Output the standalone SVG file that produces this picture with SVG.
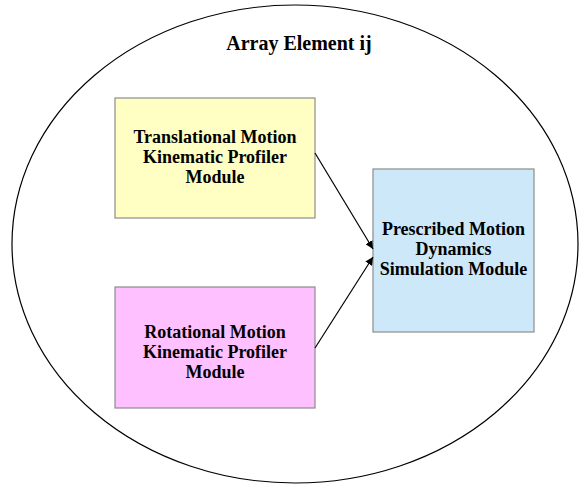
<svg xmlns="http://www.w3.org/2000/svg" width="579" height="487" viewBox="0 0 579 487">
<style>
.box{stroke:#8c8c8c;stroke-width:1.2}
.t{font-family:"Liberation Serif","Times New Roman",serif;font-weight:bold;font-size:18px;fill:#000;text-anchor:middle}
.c{stroke:#000;stroke-width:1.2;fill:none;marker-end:url(#ah)}
</style>
<defs>
<marker id="ah" viewBox="0 0 10 10" refX="10" refY="5" markerWidth="8" markerHeight="8" markerUnits="userSpaceOnUse" orient="auto">
<path d="M0,0 L10,5 L0,10 z" fill="#000"/>
</marker>
</defs>
<rect width="579" height="487" fill="#fff"/>
<g id="array-element">
<ellipse cx="295" cy="244" rx="283" ry="239" fill="none" stroke="#000" stroke-width="1.2"/>
<text class="t" x="299" y="50" style="font-size:20px">Array Element ij</text>
</g>
<g id="translational">
<rect class="box" x="115" y="98" width="200" height="120" fill="#ffffc4"/>
<text class="t" x="215" y="143">Translational Motion</text>
<text class="t" x="215" y="163">Kinematic Profiler</text>
<text class="t" x="215" y="183">Module</text>
</g>
<g id="rotational">
<rect class="box" x="115" y="287" width="200" height="121" fill="#ffc0ff"/>
<text class="t" x="215" y="338">Rotational Motion</text>
<text class="t" x="215" y="358">Kinematic Profiler</text>
<text class="t" x="215" y="378">Module</text>
</g>
<g id="prescribed">
<rect class="box" x="373" y="169" width="161" height="163" fill="#cde8f9"/>
<text class="t" x="453.5" y="235">Prescribed Motion</text>
<text class="t" x="453.5" y="255">Dynamics</text>
<text class="t" x="453.5" y="275">Simulation Module</text>
</g>
<g id="connectors">
<line class="c" x1="315" y1="153" x2="373" y2="249"/>
<line class="c" x1="315" y1="348" x2="373" y2="257"/>
</g>
</svg>
